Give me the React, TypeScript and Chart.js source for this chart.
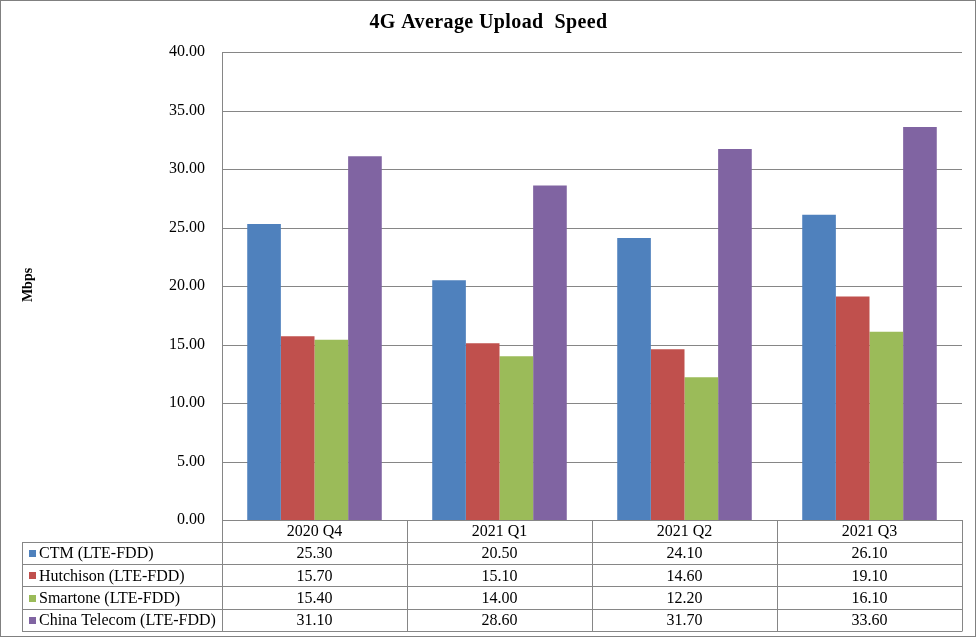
import React, { useEffect, useRef } from "react";
import { Chart, registerables } from "chart.js";

Chart.register(...registerables);

const categories = ["2020 Q4", "2021 Q1", "2021 Q2", "2021 Q3"];
const seriesNames = [
  "CTM (LTE-FDD)",
  "Hutchison (LTE-FDD)",
  "Smartone (LTE-FDD)",
  "China Telecom (LTE-FDD)",
];
const ctmValues = [25.3, 20.5, 24.1, 26.1];
const hutchisonValues = [15.7, 15.1, 14.6, 19.1];
const smartoneValues = [15.4, 14.0, 12.2, 16.1];
const chinaTelecomValues = [31.1, 28.6, 31.7, 33.6];
const seriesColors = ["#4F81BD", "#C0504D", "#9BBB59", "#8064A2"];
const titleText = "4G Average Upload  Speed";
const yAxisTitle = "Mbps";

const FONT = "'Liberation Serif', 'Times New Roman', serif";
const LINE = "#868686";

const gridPlugin = {
  id: "customGrid",
  beforeDatasetsDraw(chart: any) {
    const ctx = chart.ctx as CanvasRenderingContext2D;
    const ys = chart.scales.y;
    const xs = chart.scales.x;
    ctx.save();
    ctx.strokeStyle = LINE;
    ctx.lineWidth = 1;
    ctx.beginPath();
    ys.ticks.forEach((t: any) => {
      const y = Math.round(ys.getPixelForValue(t.value)) + 0.5;
      ctx.moveTo(xs.left, y);
      ctx.lineTo(xs.right, y);
    });
    const x = Math.round(xs.left) + 0.5;
    ctx.moveTo(x, ys.top);
    ctx.lineTo(x, ys.bottom);
    ctx.stroke();
    ctx.restore();
  },
};

const tablePlugin = {
  id: "excelTable",
  afterDraw(chart: any) {
    const ctx = chart.ctx as CanvasRenderingContext2D;
    const area = chart.chartArea;
    const xs = chart.scales.x;
    const n = chart.data.labels.length;
    const colW = (xs.right - xs.left) / n;
    const headerH = 22;
    const rowH = 22.2;
    const tableLeft = 22;
    const top = area.bottom;
    const datasets = chart.data.datasets;
    const rowsBottom = top + headerH + rowH * datasets.length;

    ctx.save();
    ctx.strokeStyle = "#808080";
    ctx.lineWidth = 1;
    ctx.strokeRect(0.5, 0.5, 975, 636);

    ctx.strokeStyle = LINE;
    ctx.beginPath();
    ctx.moveTo(xs.left, Math.round(top) + 0.5);
    ctx.lineTo(xs.right, Math.round(top) + 0.5);
    for (let r = 0; r <= datasets.length; r++) {
      const y = Math.round(top + headerH + rowH * r) + 0.5;
      ctx.moveTo(tableLeft, y);
      ctx.lineTo(xs.right, y);
    }
    for (let c = 0; c <= n; c++) {
      const x = Math.round(xs.left + colW * c) + 0.5;
      ctx.moveTo(x, top);
      ctx.lineTo(x, Math.round(rowsBottom) + 0.5);
    }
    ctx.moveTo(tableLeft + 0.5, Math.round(top + headerH) + 0.5);
    ctx.lineTo(tableLeft + 0.5, Math.round(rowsBottom) + 0.5);
    ctx.stroke();

    ctx.fillStyle = "#000";
    ctx.font = `16px ${FONT}`;
    ctx.textBaseline = "middle";
    ctx.textAlign = "center";
    for (let c = 0; c < n; c++) {
      ctx.fillText(String(chart.data.labels[c]), xs.left + colW * (c + 0.5), top + headerH / 2 + 1);
    }
    datasets.forEach((ds: any, r: number) => {
      const yc = top + headerH + rowH * (r + 0.5) + 1;
      ctx.fillStyle = ds.backgroundColor;
      ctx.fillRect(29, Math.round(yc - 4), 7, 7);
      ctx.fillStyle = "#000";
      ctx.textAlign = "left";
      ctx.fillText(ds.label, 39, yc);
      ctx.textAlign = "center";
      ds.data.forEach((v: number, c: number) => {
        ctx.fillText(v.toFixed(2), xs.left + colW * (c + 0.5), yc);
      });
    });

    // title
    ctx.save();
    ctx.font = `bold 20px ${FONT}`;
    (ctx as any).letterSpacing = "0.4px";
    ctx.textAlign = "center";
    ctx.fillText(titleText, 488.5, 23);
    ctx.restore();

    // y-axis title
    ctx.save();
    ctx.translate(28, (area.top + area.bottom) / 2 - 1);
    ctx.rotate(-Math.PI / 2);
    ctx.font = `bold 14px ${FONT}`;
    ctx.textAlign = "center";
    ctx.textBaseline = "middle";
    ctx.fillText(yAxisTitle, 0, 0);
    ctx.restore();

    ctx.restore();
  },
};

export default function App() {
  const ref = useRef<HTMLCanvasElement>(null);
  useEffect(() => {
    if (!ref.current) return;
    const values = [ctmValues, hutchisonValues, smartoneValues, chinaTelecomValues];
    const chart = new Chart(ref.current, {
      type: "bar",
      data: {
        labels: categories,
        datasets: seriesNames.map((name, i) => ({
          label: name,
          data: values[i],
          backgroundColor: seriesColors[i],
          borderWidth: 0,
          categoryPercentage: 4 / 5.5,
          barPercentage: 1,
        })),
      },
      options: {
        responsive: false,
        animation: false,
        devicePixelRatio: 1,
        layout: { padding: { left: 0, right: 15, top: 52, bottom: 118 } },
        plugins: {
          legend: { display: false },
          title: { display: false },
          tooltip: { enabled: false },
        },
        scales: {
          x: { display: false },
          y: {
            min: 0,
            max: 40,
            afterFit: (scale: any) => {
              scale.width = 222;
            },
            ticks: {
              stepSize: 5,
              padding: 17,
              color: "#000",
              font: { family: FONT, size: 16 },
              callback: (v: any) => Number(v).toFixed(2),
            },
            grid: { display: false, drawTicks: false },
            border: { display: false },
          },
        },
      },
      plugins: [gridPlugin, tablePlugin],
    });
    return () => chart.destroy();
  }, []);
  return (
    <div style={{ position: "fixed", left: 0, top: 0, width: 977, height: 638, background: "#fff" }}>
      <canvas ref={ref} width={977} height={638} style={{ display: "block" }} />
    </div>
  );
}
